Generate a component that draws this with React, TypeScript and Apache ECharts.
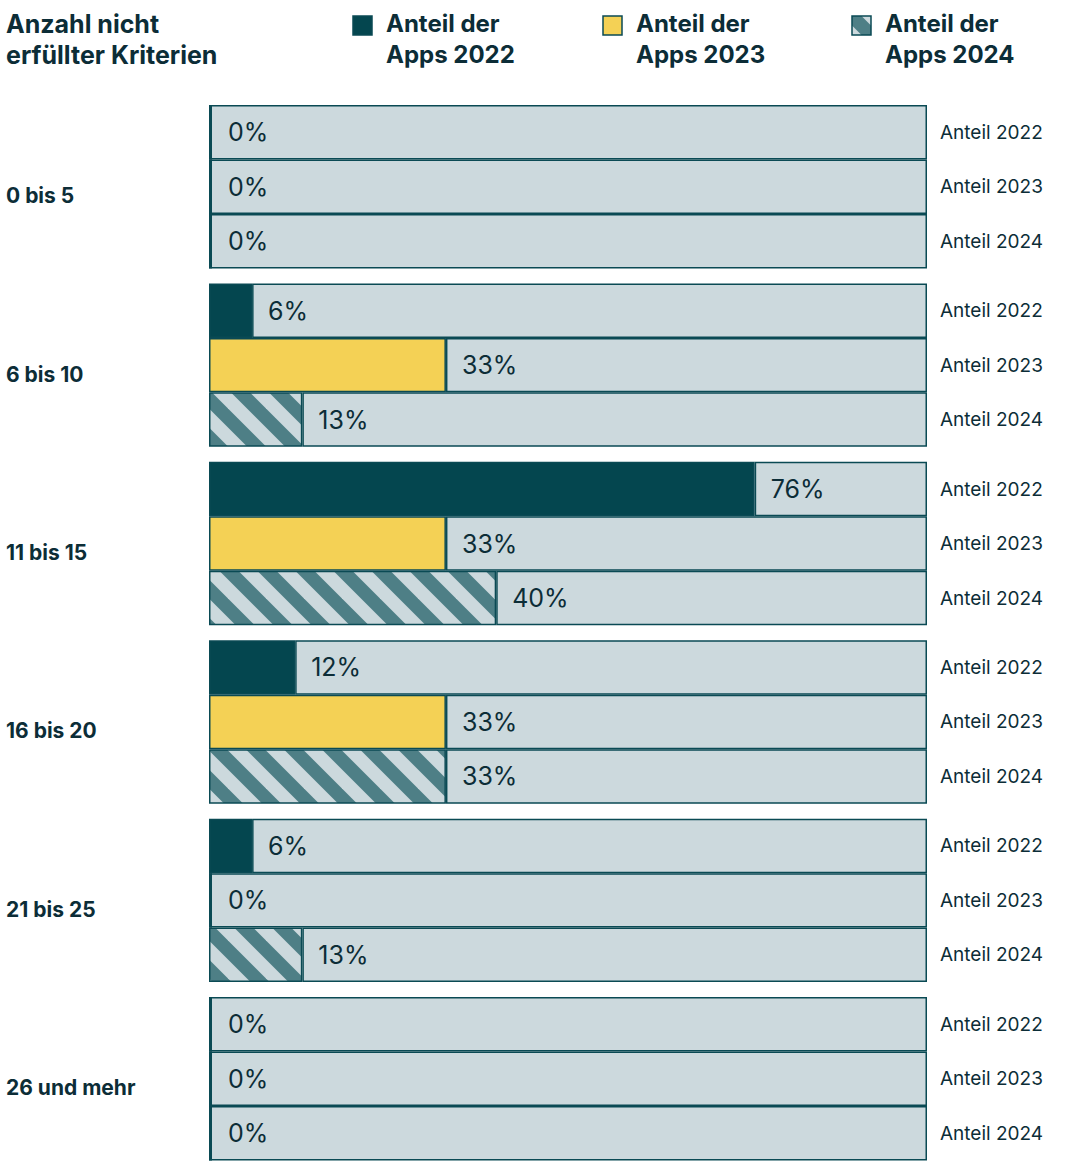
import React, { useEffect, useRef } from "react";
import * as echarts from "echarts";

const categories = ["0 bis 5", "6 bis 10", "11 bis 15", "16 bis 20", "21 bis 25", "26 und mehr"];
const years = ["2022", "2023", "2024"];
const values2022 = [0, 6, 76, 12, 6, 0];
const values2023 = [0, 33, 33, 33, 0, 0];
const values2024 = [0, 13, 40, 33, 13, 0];

const DARK = "#04464f";
const YELLOW = "#f4d155";
const LIGHT = "#ccd9dd";
const TEAL = "#4e7f86";
const BORDER = "#0a4a54";
const TEXT = "#0c2d37";
const FONT = "Inter";

function makeStripes(): HTMLCanvasElement {
  const s = 38;
  const c = document.createElement("canvas");
  c.width = s;
  c.height = s;
  const ctx = c.getContext("2d")!;
  ctx.fillStyle = LIGHT;
  ctx.fillRect(0, 0, s, s);
  ctx.strokeStyle = TEAL;
  ctx.lineWidth = 13.4;
  for (const off of [-s, 0, s]) {
    ctx.beginPath();
    ctx.moveTo(off - 5, -5);
    ctx.lineTo(off + s + 5, s + 5);
    ctx.stroke();
  }
  return c;
}

export default function App() {
  const ref = useRef<HTMLDivElement>(null);
  useEffect(() => {
    document.body.style.margin = "0";
    const chart = echarts.init(ref.current!, null, { renderer: "svg" });
    const stripes = makeStripes();
    const pattern: any = { image: stripes, repeat: "repeat" };
    const fills = [DARK, YELLOW, pattern];
    const data = [values2022, values2023, values2024];
    const series: any[] = [];
    years.forEach((y, i) => {
      series.push({
        type: "bar",
        stack: "s" + y,
        data: data[i],
        barMinHeight: 3,
        z: 4,
        itemStyle: { color: fills[i], borderColor: BORDER, borderWidth: 1.5 },
        label: {
          show: true,
          position: "right",
          distance: 16,
          formatter: (p: any) => p.value + "%",
          fontFamily: FONT,
          fontSize: 25,
          color: TEXT,
        },
        silent: true,
      });
      series.push({
        type: "bar",
        stack: "s" + y,
        data: data[i].map((v) => 100 - v),
        z: 2,
        itemStyle: { color: LIGHT, borderColor: BORDER, borderWidth: 1.5 },
        label: {
          show: true,
          position: "right",
          distance: 13,
          formatter: () => "Anteil " + y,
          fontFamily: FONT,
          fontSize: 19,
          color: TEXT,
        },
        silent: true,
      });
    });

    const legendX = [353, 603, 852];
    const legendText = ["Anteil der\nApps 2022", "Anteil der\nApps 2023", "Anteil der\nApps 2024"];
    const graphic: any[] = [
      {
        type: "text",
        x: 6,
        y: 8,
        style: {
          text: "Anzahl nicht\nerfüllter Kriterien",
          fontFamily: FONT,
          fontWeight: "bold",
          fontSize: 25,
          lineHeight: 31,
          fill: TEXT,
        },
      },
    ];
    legendX.forEach((x, i) => {
      graphic.push({
        type: "rect",
        x: x,
        y: 16,
        shape: { x: 0, y: 0, width: 19, height: 19 },
        style: { fill: i === 2 ? pattern : fills[i], stroke: BORDER, lineWidth: 1.5 },
      });
      graphic.push({
        type: "text",
        x: x + 33,
        y: 8,
        style: {
          text: legendText[i],
          fontFamily: FONT,
          fontWeight: "bold",
          fontSize: 24,
          lineHeight: 31,
          fill: TEXT,
        },
      });
    });

    chart.setOption({
      animation: false,
      backgroundColor: "#ffffff",
      grid: { left: 209, right: 153, top: 97.5, height: 1073.5, containLabel: false },
      xAxis: { type: "value", min: 0, max: 100, show: false },
      yAxis: {
        type: "category",
        inverse: true,
        data: categories,
        axisLine: { show: false },
        axisTick: { show: false },
        axisLabel: {
          align: "left",
          verticalAlign: "top",
          lineHeight: 18,
          margin: 203,
          fontFamily: FONT,
          fontWeight: "bold",
          fontSize: 21,
          color: TEXT,
        },
      },
      barGap: "0%",
      barCategoryGap: "8.4%",
      series: series.map((s) => ({ ...s, barGap: "0%", barCategoryGap: "8.4%" })),
      graphic,
    });
    return () => chart.dispose();
  }, []);
  return <div ref={ref} style={{ width: 1080, height: 1168 }} />;
}
